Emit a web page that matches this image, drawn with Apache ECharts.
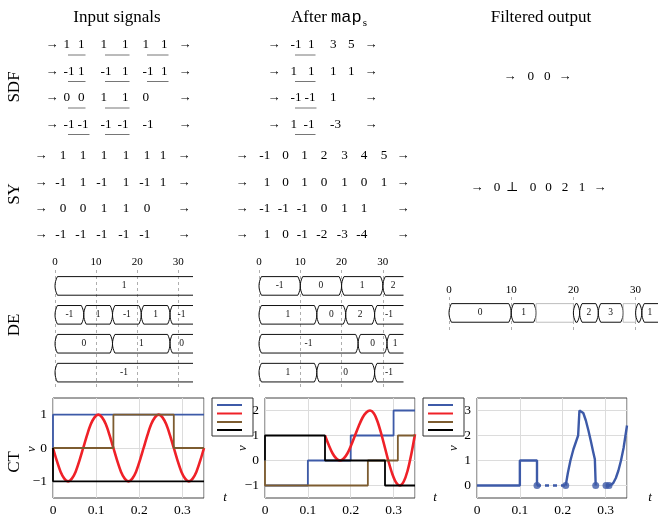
<!DOCTYPE html>
<html><head><meta charset="utf-8">
<script src="https://cdn.jsdelivr.net/npm/echarts@6/dist/echarts.min.js"></script>
<style>html,body{margin:0;padding:0;background:#fff}#c{width:658px;height:514px}</style>
</head><body><div id="c"></div>
<script>
// ---------------- DATA ----------------
const columnTitles = ['Input signals', 'After ', 'Filtered output'];
const titleMono = 'map';
const titleSub = 's';
const rowLabels = ['SDF', 'SY', 'DE', 'CT'];

// SDF token sequences (groups of two are underlined)
const sdfInput = [
  [['1','1'],['1','1'],['1','1']],
  [['-1','1'],['-1','1'],['-1','1']],
  [['0','0'],['1','1'],['0']],
  [['-1','-1'],['-1','-1'],['-1']]
];
const sdfAfter = [
  [['-1','1'],['3'],['5']],
  [['1','1'],['1'],['1']],
  [['-1','-1'],['1']],
  [['1','-1'],['-3']]
];
const sdfFiltered = [[['0'],['0']]];

// SY sequences
const syInput = [
  ['1','1','1','1','1','1'],
  ['-1','1','-1','1','-1','1'],
  ['0','0','1','1','0'],
  ['-1','-1','-1','-1','-1']
];
const syAfter = [
  ['-1','0','1','2','3','4','5'],
  ['1','0','1','0','1','0','1'],
  ['-1','-1','-1','0','1','1'],
  ['1','0','-1','-2','-3','-4']
];
const syFiltered = [['0','\u22A5','0','0','2','1']];

// DE segments: [start, end (null = open), value (null = absent)]
const deTicks = [0, 10, 20, 30];
const deInput = [
  [[0,null,'1']],
  [[0,7,'-1'],[7,14,'1'],[14,21,'-1'],[21,28,'1'],[28,null,'-1']],
  [[0,14,'0'],[14,28,'1'],[28,null,'0']],
  [[0,null,'-1']]
];
const deAfter = [
  [[0,10,'-1'],[10,20,'0'],[20,30,'1'],[30,null,'2']],
  [[0,14,'1'],[14,21,'0'],[21,28,'2'],[28,null,'-1']],
  [[0,24,'-1'],[24,31,'0'],[31,null,'1']],
  [[0,14,'1'],[14,28,'0'],[28,null,'-1']]
];
const deFiltered = [
  [[0,10,'0'],[10,14,'1'],[14,20,null],[20,21,''],[21,24,'2'],[24,28,'3'],[28,30,null],[30,31,''],[31,null,'1']]
];

// CT signals
const ctTicksX = [0, 0.1, 0.2, 0.3];
const sineT = [0,0.00875,0.0175,0.02625,0.035,0.04375,0.0525,0.06125,0.07,0.07875,0.0875,0.09625,0.105,0.11375,0.1225,0.13125,
  0.14,0.14875,0.1575,0.16625,0.175,0.18375,0.1925,0.20125,0.21,0.21875,0.2275,0.23625,0.245,0.25375,0.2625,0.27125,
  0.28,0.28875,0.2975,0.30625,0.315,0.32375,0.3325,0.34125,0.35];
const redIn = [0,-0.38,-0.71,-0.92,-1,-0.92,-0.71,-0.38,0,0.38,0.71,0.92,1,0.92,0.71,0.38,
  0,-0.38,-0.71,-0.92,-1,-0.92,-0.71,-0.38,0,0.38,0.71,0.92,1,0.92,0.71,0.38,
  0,-0.38,-0.71,-0.92,-1,-0.92,-0.71,-0.38,0];
const blueIn = [[0,0],[0,1],[0.35,1]];
const brownIn = [[0,0],[0.14,0],[0.14,1],[0.28,1],[0.28,0],[0.35,0]];
const blackIn = [[0,0],[0,-1],[0.35,-1]];

const redMapT = sineT.slice(16);
const redMap = [1,0.62,0.29,0.08,0,0.08,0.29,0.62,1,1.38,1.71,1.92,2,1.89,1.56,1.07,0.5,-0.07,-0.56,-0.89,-1,-0.84,-0.42,0.24,1.05];
const blueMap = [[0,-1],[0.1,-1],[0.1,0],[0.2,0],[0.2,1],[0.3,1],[0.3,2],[0.35,2]];
const brownMap = [[0,0],[0,-1],[0.24,-1],[0.24,0],[0.31,0],[0.31,1],[0.35,1]];
const blackMap = [[0,0],[0,1],[0.14,1],[0.14,0],[0.28,0],[0.28,-1],[0.35,-1]];

const filtA = [[0,0],[0.1,0],[0.1,1],[0.14,1],[0.14,0]];
const filtGap = [[0.14,0],[0.207,0]];
const filtB = [[0.207,0],[0.212,0.5],[0.218,1.0],[0.225,1.45],[0.231,1.75],[0.236,2.0],[0.239,3.0],[0.243,3.0],[0.248,2.9],[0.254,2.6],[0.26,2.2],[0.266,1.75],[0.271,1.35],[0.275,1.05],[0.277,0]];
const filtC = [[0.301,0],[0.308,0],[0.313,0.03],[0.318,0.1],[0.324,0.3],[0.33,0.6],[0.336,1.0],[0.342,1.5],[0.35,2.4]];
const filtDots = [[0.14,0],[0.207,0],[0.277,0],[0.301,0],[0.308,0]];

const COLORS = ['#3d5aa8', '#ef2128', '#7d5c30', '#000000'];

// ---------------- LAYOUT / HELPERS ----------------
const SERIF = "'Liberation Serif','DejaVu Serif',serif";
const MONO = "'Liberation Mono','DejaVu Sans Mono',monospace";
const NUMSIZE = 13.2;
const NUMFONT = NUMSIZE + 'px ' + SERIF;
const graphics = [];
const mctx = document.createElement('canvas').getContext('2d');
function measure(s, font) { mctx.font = font; return mctx.measureText(s).width; }
function txt(x, y, s, size, o) {
  o = o || {};
  const al = o.align || 'center';
  const el = {type:'text', x:x, y:y, silent:true, z:100,
    style:{text:s, fill:o.color||'#000', font:(o.italic?'italic ':'')+size+'px '+(o.family||SERIF),
      textAlign:al, textVerticalAlign:'middle', align:al, verticalAlign:'middle'}};
  if (o.rotation) el.rotation = o.rotation;
  graphics.push(el);
}
function hline(x1, x2, y, color, w) {
  graphics.push({type:'line', silent:true, z:100, shape:{x1:x1,y1:y,x2:x2,y2:y}, style:{stroke:color, lineWidth:w}});
}
function num(x, y, v) { txt(x + 3.3, y, v, NUMSIZE, {align:'right'}); }

// SDF: each group occupies a span; first token left-aligned, second right-aligned
function drawGroups(rows, ys, spans, aL, aR) {
  rows.forEach((groups, r) => {
    const y = ys[r];
    txt(aL, y, '\u2192', 13);
    txt(aR, y, '\u2192', 13);
    groups.forEach((grp, gi) => {
      const sp = spans[gi];
      txt(sp[0], y, grp[0], NUMSIZE, {align:'left'});
      if (grp.length > 1) {
        const w1 = measure(grp[0], NUMFONT), w2 = measure(grp[1], NUMFONT);
        const x2 = Math.max(sp[1] - w2, sp[0] + w1 + 3);
        txt(x2, y, grp[1], NUMSIZE, {align:'left'});
        hline(sp[0] + 4.5, Math.max(sp[1], x2 + w2) + 1, y + 10, '#666', 0.9);
      }
    });
  });
}
function drawSeq(rows, ys, slots, aL, aR) {
  rows.forEach((vals, r) => {
    const y = ys[r];
    txt(aL, y, '\u2192', 13);
    txt(aR, y, '\u2192', 13);
    vals.forEach((v, k) => num(slots[k], y, v));
  });
}

// titles
const TSIZE = 17;
txt(117, 18, columnTitles[0], TSIZE);
(function () {
  const f1 = TSIZE + 'px ' + SERIF, f2 = '17px ' + MONO, f3 = '11px ' + SERIF;
  const w1 = measure(columnTitles[1], f1), w2 = measure(titleMono, f2), w3 = measure(titleSub, f3);
  let x = 329 - (w1 + w2 + w3 + 1) / 2;
  txt(x, 18, columnTitles[1], TSIZE, {align:'left'}); x += w1;
  txt(x, 17, titleMono, 17, {align:'left', family:MONO}); x += w2 + 1;
  txt(x, 23, titleSub, 11, {align:'left'});
})();
txt(541, 18, columnTitles[2], TSIZE);

// row labels
const rowLabelY = [87, 194, 325, 462];
rowLabels.forEach((l, i) => txt(15, rowLabelY[i], l, 17, {rotation: Math.PI/2}));

// SDF
const sdfY = [45, 71.5, 98, 124.5];
drawGroups(sdfInput, sdfY, [[63.5,84.5],[100.5,128.5],[142.5,167.5]], 52, 185);
drawGroups(sdfAfter, sdfY, [[290.5,314.5],[330,336],[348,354]], 274, 371);
drawGroups(sdfFiltered, [77], [[527.5,533],[544,550]], 510, 565);
// SY
drawSeq(syInput, [156, 182.5, 208.5, 235], [63, 83, 104, 126, 147, 163], 41, 184);
drawSeq(syAfter, [156, 182.5, 208.5, 235], [267, 285.5, 304.5, 324, 344.5, 364, 384], 242, 403);
drawSeq(syFiltered, [188], [497, 515, 533, 548.5, 565, 582], 477, 600);

// CT axis labels
[[32,449],[243,448],[454,448]].forEach(p => txt(p[0], p[1], 'v', 13, {italic:true, rotation:Math.PI/2}));
[225, 435, 650].forEach(x => txt(x, 498, 't', 13, {italic:true}));

// legends (boxes without text)
[212, 423].forEach(x0 => {
  graphics.push({type:'rect', silent:true, z:90, shape:{x:x0, y:398, width:41, height:38}, style:{fill:'#fff', stroke:'#333', lineWidth:1}});
  [405, 413.5, 422, 430].forEach((y, i) => {
    graphics.push({type:'line', silent:true, z:91, shape:{x1:x0+5, y1:y, x2:x0+30, y2:y}, style:{stroke:COLORS[i], lineWidth:2}});
  });
});

// ---------------- DE custom series ----------------
function deSeries(rows, idx, axisMax) {
  const items = [];
  rows.forEach((segs, r) => segs.forEach(sg => {
    items.push({s:sg[0], e:sg[1] === null ? axisMax : sg[1], open: sg[1] === null, row:r, label:sg[2]});
  }));
  return {
    type:'custom', xAxisIndex:idx, yAxisIndex:idx, silent:true, z:5,
    data: items.map(it => [it.s, it.e, it.row]),
    encode:{x:[0,1], y:2},
    renderItem: function(params, api) {
      const it = items[params.dataIndex];
      const a = api.coord([it.s, it.row]), b = api.coord([it.e, it.row]);
      const y = a[1], x0 = a[0], x1 = b[0];
      const h = 9.3;
      if (it.label === null) {
        return {type:'rect', shape:{x:x0, y:y-h, width:x1-x0, height:2*h}, style:{fill:'none', stroke:'#bdbdbd', lineWidth:1}};
      }
      const c = Math.min(2.4, (x1 - x0) / 2);
      const N = 8;
      function quad(p0, pc, p1) {
        const out = [];
        for (let i = 0; i <= N; i++) {
          const t = i / N;
          out.push([(1-t)*(1-t)*p0[0] + 2*t*(1-t)*pc[0] + t*t*p1[0], (1-t)*(1-t)*p0[1] + 2*t*(1-t)*pc[1] + t*t*p1[1]]);
        }
        return out;
      }
      const children = [];
      if (it.open) {
        let pts = [[x1, y-h], [x0+c, y-h]];
        pts = pts.concat(quad([x0+c, y-h], [x0-c, y], [x0+c, y+h]));
        pts.push([x1, y+h]);
        children.push({type:'polyline', shape:{points:pts}, style:{fill:'none', stroke:'#111', lineWidth:1}});
      } else {
        let pts = [[x0+c, y-h]];
        pts = pts.concat(quad([x1-c, y-h], [x1+c, y], [x1-c, y+h]));
        pts = pts.concat(quad([x0+c, y+h], [x0-c, y], [x0+c, y-h]));
        children.push({type:'polygon', shape:{points:pts}, style:{fill:'none', stroke:'#111', lineWidth:1}});
      }
      if (it.label) {
        const lx = api.coord([(it.s + it.e) / 2, it.row])[0];
        children.push({type:'text', x:lx, y:y, style:{text:it.label, fontSize:9.5, fontFamily:SERIF, fill:'#111',
          align:'center', verticalAlign:'middle', textAlign:'center', textVerticalAlign:'middle'}});
      }
      return {type:'group', children:children};
    }
  };
}

// ---------------- AXES ----------------
function deX(idx, max, margin) {
  return {gridIndex:idx, type:'value', position:'top', min:0, max:max, interval:10,
    axisLine:{show:false}, axisTick:{show:false},
    axisLabel:{fontSize:11, margin:margin, color:'#000', fontFamily:SERIF, showMaxLabel:false,
      formatter: v => deTicks.indexOf(v) >= 0 ? String(v) : ''},
    splitLine:{show:true, showMaxLine:false, lineStyle:{type:[3,3], color:'#9a9a9a', width:0.8}}};
}
function deY(idx, min, max) {
  return {gridIndex:idx, type:'value', inverse:true, min:min, max:max, show:false, splitLine:{show:false}};
}
function fmtY(v) {
  if (Math.abs(v - Math.round(v)) > 1e-9) return '';
  const r = Math.round(v);
  return r < 0 ? '\u2212' + (-r) : String(r);
}
function ctX(idx) {
  return {gridIndex:idx, type:'value', min:0, max:0.35, interval:0.1,
    axisLine:{show:false}, axisTick:{show:false},
    axisLabel:{fontSize:13.5, margin:5, color:'#000', fontFamily:SERIF, showMaxLabel:false,
      formatter: v => { const i = ctTicksX.findIndex(t => Math.abs(t - v) < 1e-9); return i >= 0 ? String(ctTicksX[i]) : ''; }},
    splitLine:{show:true, lineStyle:{color:'#dcdcdc', width:1}}};
}
function ctY(idx, min, max) {
  return {gridIndex:idx, type:'value', min:min, max:max, interval:0.5,
    axisLine:{show:false}, axisTick:{show:false},
    axisLabel:{fontSize:13.5, margin:6, color:'#000', fontFamily:SERIF, formatter: fmtY, showMinLabel:false, showMaxLabel:false},
    splitLine:{show:true, lineStyle:{color:['rgba(0,0,0,0)', '#dcdcdc'], width:1}}};
}

function line(idx, data, color, width, extra) {
  return Object.assign({type:'line', xAxisIndex:idx, yAxisIndex:idx, data:data, symbol:'none', silent:true,
    animation:false, lineStyle:{color:color, width:width}, itemStyle:{color:color}}, extra || {});
}
const zipT = (ts, vs) => ts.map((t, i) => [t, vs[i]]);

const gridBase = {containLabel:false, outerBoundsMode:'none'};
const ctGrid = (left) => Object.assign({left:left, top:398, width:150, height:100, show:true, borderColor:'#444', borderWidth:1, backgroundColor:'rgba(0,0,0,0)'}, gridBase);

const option = {
  animation:false,
  backgroundColor:'#fff',
  grid:[
    Object.assign({left:55, top:270, width:138, height:120}, gridBase),
    Object.assign({left:259, top:270, width:144.5, height:120}, gridBase),
    Object.assign({left:449, top:297, width:209, height:33}, gridBase),
    Object.assign(ctGrid(53), {width:151}),
    ctGrid(265),
    ctGrid(477)
  ],
  xAxis:[deX(0, 33.6, 2), deX(1, 35, 2), deX(2, 33.6, 1), ctX(3), ctX(4), ctX(5)],
  yAxis:[deY(0, -0.55, 3.6), deY(1, -0.55, 3.6), deY(2, -0.55, 0.59), ctY(3, -1.5, 1.5), ctY(4, -1.5, 2.5), ctY(5, -0.5, 3.5)],
  graphic: graphics,
  series:[
    deSeries(deInput, 0, 33.6),
    deSeries(deAfter, 1, 35),
    deSeries(deFiltered, 2, 33.6),
    line(3, blueIn, COLORS[0], 1.8),
    line(3, zipT(sineT, redIn), COLORS[1], 2.6, {smooth:0.3}),
    line(3, brownIn, COLORS[2], 1.8),
    line(3, blackIn, COLORS[3], 1.8),
    line(4, blueMap, COLORS[0], 1.8),
    line(4, zipT(redMapT, redMap), COLORS[1], 2.6, {smooth:0.3}),
    line(4, brownMap, COLORS[2], 1.8),
    line(4, blackMap, COLORS[3], 1.8),
    line(5, filtA, COLORS[0], 2.4),
    line(5, filtGap, COLORS[0], 2.4, {lineStyle:{color:COLORS[0], width:2.4, type:[4,4]}}),
    line(5, filtB, COLORS[0], 2.4),
    line(5, filtC, COLORS[0], 2.4),
    {type:'scatter', xAxisIndex:5, yAxisIndex:5, data:filtDots, symbol:'circle', symbolSize:7, silent:true, itemStyle:{color:COLORS[0]}}
  ]
};
const chart = echarts.init(document.getElementById('c'), null, {renderer:'canvas'});
chart.setOption(option);
</script></body></html>
